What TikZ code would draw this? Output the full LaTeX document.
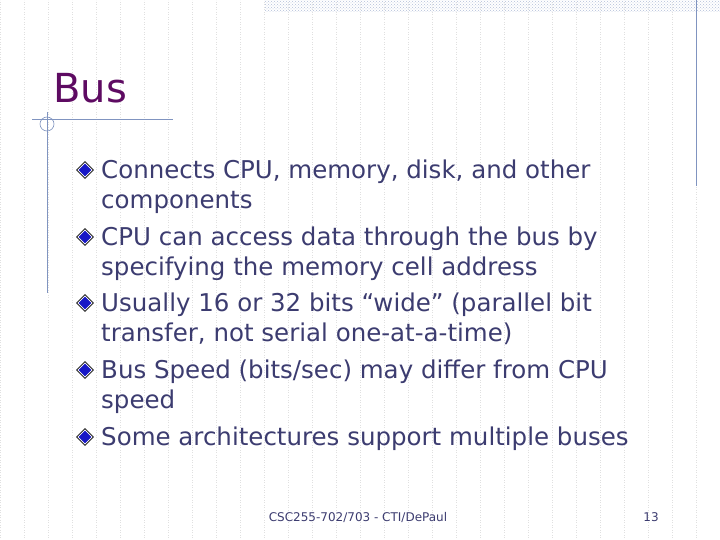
\documentclass[tikz,border=0pt]{standalone}
\usepackage{fontspec}
\setmainfont{DejaVu Sans}
\usetikzlibrary{patterns,shapes.geometric}
\definecolor{txt}{HTML}{3C3C70}
\definecolor{ttl}{HTML}{5E0B62}
\definecolor{rule}{HTML}{8094C0}
\definecolor{gridc}{HTML}{E0E0E0}
\tikzset{item/.style={anchor=north west,text=txt,font=\fontsize{24.5}{29.5}\selectfont,inner sep=0pt,align=left},
bul/.style={diamond,fill=white,draw=black,line width=0.6pt,inner sep=0pt,minimum width=17pt,minimum height=17pt},
bulin/.style={diamond,fill=txt!40!blue,inner sep=0pt,minimum width=13pt,minimum height=13pt}}
\begin{document}
\begin{tikzpicture}[x=1pt,y=-1pt]
\useasboundingbox (0,0) rectangle (720,540);
\fill[white] (0,0) rectangle (720,540);
\draw[gridc,dotted,line width=0.5pt] (0,0) grid[step=24] (720,540);
\fill[pattern=crosshatch dots,pattern color=rule!60] (265,0) rectangle (720,12);
\draw[rule,line width=1pt] (696,0) -- (696,186);
\draw[rule,line width=0.8pt] (32,119) -- (173,119);
\draw[rule,line width=0.8pt] (47,112) -- (47,293);
\draw[rule,line width=0.6pt] (47,124) circle (7);
\node[anchor=west,text=ttl,font=\fontsize{40}{42}\selectfont,inner sep=0pt] (title) at (53,88) {Bus};
\foreach \n/\y in {1/170,2/237,3/303,4/370,5/437}{\node[bul] (b\n) at (85,\y) {}; \node[bulin] (c\n) at (85,\y) {};}
\node[item] (t1) at (101,160) {Connects CPU, memory, disk, and other\\components};
\node[item] (t2) at (101,227) {CPU can access data through the bus by\\specifying the memory cell address};
\node[item] (t3) at (101,293) {Usually 16 or 32 bits “wide” (parallel bit\\transfer, not serial one-at-a-time)};
\node[item] (t4) at (101,360) {Bus Speed (bits/sec) may differ from CPU\\speed};
\node[item] (t5) at (101,427) {Some architectures support multiple buses};
\node[text=txt,font=\fontsize{12}{14}\selectfont] (foot) at (358,517) {CSC255-702/703 - CTI/DePaul};
\node[text=txt,font=\fontsize{12}{14}\selectfont] (num) at (651,517) {13};
\end{tikzpicture}
\end{document}
